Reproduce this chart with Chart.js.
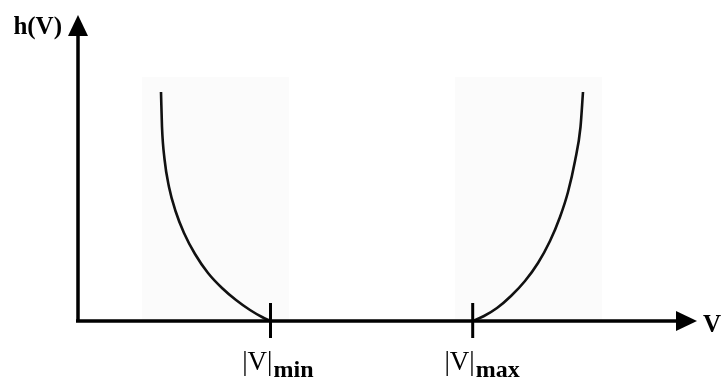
<!DOCTYPE html>
<html>
<head>
<meta charset="utf-8">
<script src="https://cdn.jsdelivr.net/npm/chart.js@4/dist/chart.umd.min.js"></script>
<style>
  html, body { margin: 0; padding: 0; background: #fff; }
  #wrap { width: 723px; height: 381px; }
</style>
</head>
<body>
<div id="wrap"><canvas id="hv" width="723" height="381"></canvas></div>
<script>
// axis extents (arbitrary units)
const xMax = 6.19;
const yMax = 3.06;

// tick positions on V axis
const vMin = 1.925;
const vMax = 3.947;
const tickNames = ['min', 'max'];

// left branch of h(V), below |V|min
const leftV = [0.83, 0.84, 0.865, 0.91, 0.975, 1.06, 1.17, 1.30, 1.44, 1.58, 1.72, 1.84, 1.925];
const leftH = [2.29, 1.94, 1.62, 1.34, 1.10, 0.88, 0.67, 0.48, 0.33, 0.21, 0.11, 0.04, 0];

// right branch of h(V), above |V|max
const rightV = [3.947, 4.06, 4.19, 4.33, 4.47, 4.60, 4.72, 4.82, 4.90, 4.97, 5.025, 5.05];
const rightH = [0, 0.05, 0.13, 0.25, 0.40, 0.58, 0.80, 1.04, 1.29, 1.60, 1.94, 2.29];

// faint shaded bands behind the curves [from, to, height]
const bands = [[0.64, 2.11, 2.44], [3.77, 5.24, 2.44]];

const toPts = (xs, ys) => xs.map((x, i) => ({ x: x, y: ys[i] }));

const diagram = {
  id: 'diagram',
  beforeDatasetsDraw(chart) {
    const { ctx, scales: { x, y } } = chart;
    ctx.save();
    ctx.fillStyle = '#fbfbfb';
    bands.forEach(b => {
      const x0 = x.getPixelForValue(b[0]), x1 = x.getPixelForValue(b[1]);
      const y0 = y.getPixelForValue(b[2]), y1 = y.getPixelForValue(0);
      ctx.fillRect(x0, y0, x1 - x0, y1 - y0);
    });
    ctx.restore();
  },
  afterDatasetsDraw(chart) {
    const { ctx, scales: { x, y } } = chart;
    const ox = x.getPixelForValue(0), oy = y.getPixelForValue(0);
    const ex = x.getPixelForValue(xMax), ty = y.getPixelForValue(yMax);
    ctx.save();
    ctx.strokeStyle = '#000';
    ctx.fillStyle = '#000';
    ctx.lineWidth = 3.5;
    ctx.beginPath();
    ctx.moveTo(ox, oy);
    ctx.lineTo(ox, ty + 18);
    ctx.moveTo(ox - 2, oy);
    ctx.lineTo(ex - 18, oy);
    ctx.stroke();
    // arrow heads
    ctx.beginPath();
    ctx.moveTo(ox, ty);
    ctx.lineTo(ox - 10, ty + 21);
    ctx.lineTo(ox + 10, ty + 21);
    ctx.closePath();
    ctx.fill();
    ctx.beginPath();
    ctx.moveTo(ex, oy);
    ctx.lineTo(ex - 21, oy - 10);
    ctx.lineTo(ex - 21, oy + 10);
    ctx.closePath();
    ctx.fill();
    // tick marks
    ctx.lineWidth = 3;
    [vMin, vMax].forEach(v => {
      const px = x.getPixelForValue(v);
      ctx.beginPath();
      ctx.moveTo(px, oy - 18);
      ctx.lineTo(px, oy + 17);
      ctx.stroke();
    });
    // labels
    ctx.textBaseline = 'alphabetic';
    ctx.font = 'bold 25px "Liberation Serif"';
    ctx.textAlign = 'right';
    ctx.fillText('h(V)', ox - 16, ty + 19);
    ctx.textAlign = 'left';
    ctx.fillText('V', ex + 6, oy + 11);
    [vMin, vMax].forEach((v, i) => {
      const px = x.getPixelForValue(v);
      ctx.font = '27px "Liberation Serif"';
      const w = ctx.measureText('|V|').width;
      ctx.fillText('|V|', px - w + 2, oy + 49);
      ctx.font = 'bold 24px "Liberation Serif"';
      ctx.fillText(tickNames[i], px + 3, oy + 56);
    });
    ctx.restore();
  }
};

const curve = (xs, ys) => ({
  data: toPts(xs, ys),
  showLine: true,
  borderColor: '#111',
  borderWidth: 2.6,
  pointRadius: 0,
  cubicInterpolationMode: 'monotone'
});

new Chart(document.getElementById('hv'), {
  type: 'scatter',
  data: {
    datasets: [curve(leftV, leftH), curve(rightV, rightH)]
  },
  options: {
    responsive: false,
    animation: false,
    layout: { padding: { left: 78, right: 26, top: 15, bottom: 60 } },
    plugins: { legend: { display: false }, tooltip: { enabled: false } },
    scales: {
      x: { type: 'linear', min: 0, max: xMax, display: false },
      y: { type: 'linear', min: 0, max: yMax, display: false }
    }
  },
  plugins: [diagram]
});
</script>
</body>
</html>
